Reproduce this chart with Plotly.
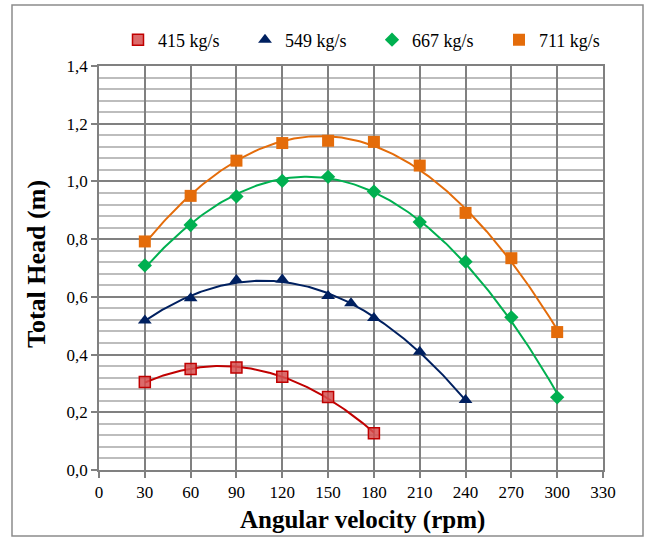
import numpy as np
import plotly.graph_objects as go

# ---- data ----
rpm_415 = [30, 60, 90, 120, 150, 180]
head_415 = [0.305, 0.350, 0.355, 0.323, 0.253, 0.127]

rpm_549 = [30, 60, 90, 120, 150, 165, 180, 210, 240]
head_549 = [0.518, 0.595, 0.658, 0.660, 0.603, 0.578, 0.527, 0.410, 0.243]

rpm_667 = [30, 60, 90, 120, 150, 180, 210, 240, 270, 300]
head_667 = [0.709, 0.849, 0.948, 1.002, 1.016, 0.965, 0.859, 0.722, 0.529, 0.252]

rpm_711 = [30, 60, 90, 120, 150, 180, 210, 240, 270, 300]
head_711 = [0.792, 0.950, 1.072, 1.133, 1.141, 1.137, 1.055, 0.891, 0.734, 0.478]

series_names = ["415 kg/s", "549 kg/s", "667 kg/s", "711 kg/s"]
x_ticks = list(range(0, 331, 30))
y_ticks = [0.0, 0.2, 0.4, 0.6, 0.8, 1.0, 1.2, 1.4]

W, H = 649, 537
PL, PR, PT, PB = 99, 603, 66, 470   # plot area in pixels

FONT = "Liberation Serif"

styles = [
    dict(color="#C00000", symbol="square", size=11, fill="rgba(214,80,80,0.85)", lw=1.5),
    dict(color="#002060", symbol="triangle-up", size=12, fill="#002060", lw=0),
    dict(color="#00B050", symbol="diamond", size=11, fill="#00B050", lw=0),
    dict(color="#E46C0A", symbol="square", size=12, fill="#E46C0A", lw=0),
]
data = [(rpm_415, head_415), (rpm_549, head_549), (rpm_667, head_667), (rpm_711, head_711)]

fig = go.Figure()
# trend lines (2nd order polynomial fit of each series)
for (xs, ys), st in zip(data, styles):
    coef = np.polyfit(xs, ys, 2)
    xx = np.linspace(min(xs), max(xs), 200)
    fig.add_trace(go.Scatter(x=xx, y=np.polyval(coef, xx), mode="lines",
                             line=dict(color=st["color"], width=2),
                             showlegend=False, hoverinfo="skip"))
for (xs, ys), st, name in zip(data, styles, series_names):
    fig.add_trace(go.Scatter(x=xs, y=ys, mode="markers", name=name,
                             marker=dict(symbol=st["symbol"], size=st["size"], color=st["fill"],
                                         line=dict(color=st["color"], width=st["lw"]))))

grid_major = "#808080"
grid_minor = "#BDBDBD"

def fx(p):
    return p / W

def fy(p):
    return 1 - p / H

fig.update_xaxes(domain=[fx(PL), fx(PR)], range=[0, 330], tickvals=x_ticks,
                 showgrid=True, gridcolor=grid_major, gridwidth=1.8,
                 showline=True, linecolor=grid_major, linewidth=1.8, mirror=True,
                 ticks="outside", ticklen=6, tickcolor=grid_major, tickwidth=1.5,
                 zeroline=False, automargin=False,
                 tickfont=dict(family=FONT, size=17, color="black"))
fig.update_yaxes(domain=[fy(PB), fy(PT)], range=[0, 1.4], tickvals=y_ticks, tickformat=".1f",
                 showgrid=True, gridcolor=grid_major, gridwidth=1.8,
                 minor=dict(dtick=0.04, showgrid=True, gridcolor=grid_minor, gridwidth=1.8),
                 showline=True, linecolor=grid_major, linewidth=1.8, mirror=True,
                 ticks="outside", ticklen=6, tickcolor=grid_major, tickwidth=1.5,
                 zeroline=False, automargin=False,
                 tickfont=dict(family=FONT, size=17, color="black"))

fig.update_layout(
    width=W, height=H,
    margin=dict(l=0, r=0, t=0, b=0, autoexpand=False),
    paper_bgcolor="white", plot_bgcolor="white",
    separators=",.",
    font=dict(family=FONT, color="black"),
    legend=dict(orientation="h", x=fx(118), xanchor="left", y=fy(40), yanchor="middle",
                entrywidth=82, entrywidthmode="pixels",
                font=dict(family=FONT, size=18, color="black"),
                bgcolor="rgba(0,0,0,0)", itemwidth=30),
    shapes=[dict(type="rect", xref="paper", yref="paper",
                 x0=fx(12), x1=fx(643), y0=fy(536), y1=fy(5),
                 line=dict(color="#8C8C8C", width=1.5), fillcolor="rgba(0,0,0,0)", layer="below")],
    annotations=[
        dict(text="<b>Angular velocity (rpm)</b>", xref="paper", yref="paper",
             x=fx(363), y=fy(520), xanchor="center", yanchor="middle", showarrow=False,
             font=dict(family=FONT, size=25, color="black")),
        dict(text="<b>Total Head (m)</b>", xref="paper", yref="paper",
             x=fx(37), y=fy(264), xanchor="center", yanchor="middle", showarrow=False,
             textangle=-90, font=dict(family=FONT, size=26, color="black")),
    ],
)

fig.write_html("out.html")
